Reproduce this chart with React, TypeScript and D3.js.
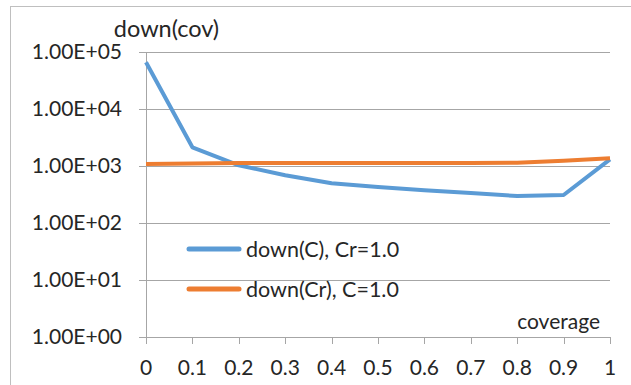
import React from "react";
import * as d3 from "d3";

// Coverage values along the x axis
const coverage = [0, 0.1, 0.2, 0.3, 0.4, 0.5, 0.6, 0.7, 0.8, 0.9, 1.0];
// down(C) with Cr fixed at 1.0
const downC = [66000, 2130, 1030, 690, 500, 430, 375, 335, 297, 310, 1310];
// down(Cr) with C fixed at 1.0
const downCr = [1085, 1110, 1130, 1130, 1130, 1130, 1130, 1130, 1140, 1240, 1365];

const seriesNames = ["down(C), Cr=1.0", "down(Cr), C=1.0"];
const seriesColors = ["#5B9BD5", "#ED7D31"];
const yTicks = [1, 10, 100, 1000, 10000, 100000];
const xTicks = [0, 0.1, 0.2, 0.3, 0.4, 0.5, 0.6, 0.7, 0.8, 0.9, 1];

const W = 631;
const H = 385;
const FONT = "Lato, 'Open Sans', sans-serif";
const TEXT = "#262626";

export default function App() {
  const x = d3.scaleLinear().domain([0, 1]).range([146, 610]);
  const y = d3.scaleLog().domain([1, 100000]).range([337, 52]);
  const line = d3
    .line<number>()
    .x((_, i) => x(coverage[i]))
    .y((v) => y(v));
  const series = [downC, downCr];
  const fmtY = (v: number) => {
    const e = Math.round(Math.log10(v));
    return `1.00E+${String(e).padStart(2, "0")}`;
  };
  const axisColor = "#A6A6A6";
  const x0 = x(0);
  const x1 = x(1);
  const yBottom = y(1);

  return (
    <svg
      width={W}
      height={H}
      style={{ position: "absolute", left: 0, top: 0, background: "#fff" }}
      fontFamily={FONT}
    >
      <rect x={0} y={0} width={W} height={H} fill="#fff" />
      <rect x={10.5} y={6.5} width={700} height={500} fill="none" stroke="#BFBFBF" strokeWidth={1} />

      {/* horizontal gridlines and y tick labels */}
      {yTicks.map((t) => (
        <g key={t}>
          <line x1={139} x2={x1} y1={Math.round(y(t)) + 0.5} y2={Math.round(y(t)) + 0.5} stroke={axisColor} strokeWidth={1} />
          <text x={122} y={y(t)} dy="0.35em" textAnchor="end" fontSize={21} fill={TEXT}>
            {fmtY(t)}
          </text>
        </g>
      ))}

      {/* vertical axis */}
      <line x1={x0 + 0.5} x2={x0 + 0.5} y1={y(100000)} y2={yBottom + 7} stroke={axisColor} />

      {/* x ticks and labels */}
      {xTicks.map((t) => (
        <g key={t}>
          <line x1={Math.round(x(t)) + 0.5} x2={Math.round(x(t)) + 0.5} y1={yBottom} y2={yBottom + 7} stroke={axisColor} />
          <text x={x(t)} y={368} dy="0.35em" textAnchor="middle" fontSize={21} fill={TEXT}>
            {String(t)}
          </text>
        </g>
      ))}

      {/* series lines */}
      {series.map((s, i) => (
        <path key={i} d={line(s) ?? ""} fill="none" stroke={seriesColors[i]} strokeWidth={4} strokeLinejoin="round" />
      ))}

      {/* axis titles */}
      <text x={166.5} y={29} dy="0.35em" textAnchor="middle" fontSize={23.5} fill={TEXT}>
        down(cov)
      </text>
      <text x={600} y={322} dy="0.35em" textAnchor="end" fontSize={21} fill={TEXT}>
        coverage
      </text>

      {/* legend */}
      {seriesNames.map((n, i) => {
        const ly = 249 + i * 40;
        return (
          <g key={n}>
            <line x1={189} x2={239} y1={ly} y2={ly} stroke={seriesColors[i]} strokeWidth={5} strokeLinecap="round" />
            <text x={246} y={ly} dy="0.35em" fontSize={21.5} fill={TEXT}>
              {n}
            </text>
          </g>
        );
      })}
    </svg>
  );
}
